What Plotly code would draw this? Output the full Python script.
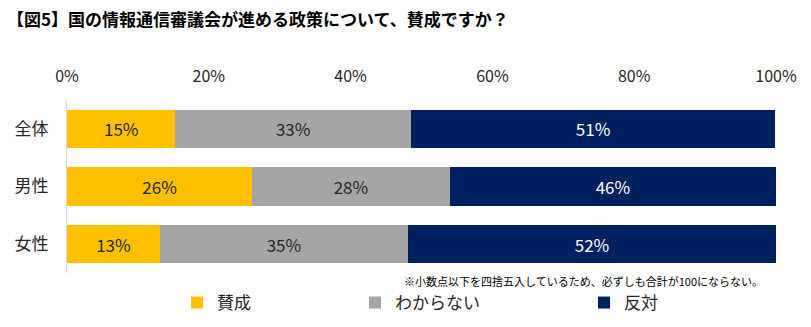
import plotly.graph_objects as go

categories = ["全体", "男性", "女性"]
series_names = ["賛成", "わからない", "反対"]
agree = [15.3, 26.1, 13.1]
unknown = [33.2, 27.9, 35.0]
oppose = [51.4, 46.0, 51.9]
colors = ["#FFC000", "#A5A5A5", "#002060"]
label_colors = ["#262626", "#262626", "#FFFFFF"]
tick_vals = [0, 20, 40, 60, 80, 100]
tick_text = ["0%", "20%", "40%", "60%", "80%", "100%"]

title = "【図5】国の情報通信審議会が進める政策について、賛成ですか？"
note = "※小数点以下を四捨五入しているため、必ずしも合計が100にならない。"

FONT = "Noto Sans CJK JP"

fig = go.Figure()
series = [agree, unknown, oppose]
legends = ["legend", "legend2", "legend3"]
for name, vals, col, lcol, lg in zip(series_names, series, colors, label_colors, legends):
    fig.add_trace(go.Bar(
        y=categories, x=vals, name=name, orientation="h",
        marker=dict(color=col, line=dict(width=0)),
        text=[f"{round(v)}%" for v in vals],
        textposition="inside", insidetextanchor="middle",
        textfont=dict(size=17, color=lcol, family=FONT),
        hoverinfo="skip",
        legend=lg, showlegend=True,
    ))

leg_common = dict(orientation="h", yanchor="middle", xanchor="left",
                  font=dict(size=17, family=FONT, color="#262626"),
                  bgcolor="rgba(0,0,0,0)", itemwidth=30,
                  xref="container", yref="container", visible=True)

LEG_Y = 1 - 303 / 327

fig.update_layout(
    width=811, height=327,
    margin=dict(l=67, r=35, t=100, b=50),
    barmode="stack", bargap=0.34,
    plot_bgcolor="white", paper_bgcolor="white",
    showlegend=True,
    font=dict(family=FONT, color="#262626"),
    uniformtext=dict(mode="show", minsize=10),
    xaxis=dict(side="top", range=[0, 100], tickvals=tick_vals, ticktext=tick_text,
               showgrid=False, zeroline=False, showline=False, ticks="",
               tickfont=dict(size=16, family=FONT, color="#262626"),
               ticklabelstandoff=14, fixedrange=True),
    yaxis=dict(autorange="reversed", showgrid=False, zeroline=False,
               showline=True, linecolor="#D9D9D9", linewidth=1,
               ticks="", tickfont=dict(size=17, family=FONT, color="#262626"),
               ticklabelstandoff=14),
    legend=dict(**leg_common, x=177 / 811, y=LEG_Y),
    legend2=dict(**leg_common, x=355 / 811, y=LEG_Y),
    legend3=dict(**leg_common, x=584 / 811, y=LEG_Y),
    annotations=[
        dict(text=title, x=-62 / 709, y=1 + (100 - 17) / 177,
             xref="paper", yref="paper", showarrow=False,
             xanchor="left", yanchor="middle",
             font=dict(size=17, family=FONT, color="#000000", weight="bold")),
        dict(text=note, xref="paper", yref="paper", x=1, y=0, showarrow=False,
             xanchor="right", yanchor="middle", yshift=-8, xshift=-11,
             font=dict(size=11, family=FONT, color="#000000")),
    ],
)

fig.write_html("out.html")
